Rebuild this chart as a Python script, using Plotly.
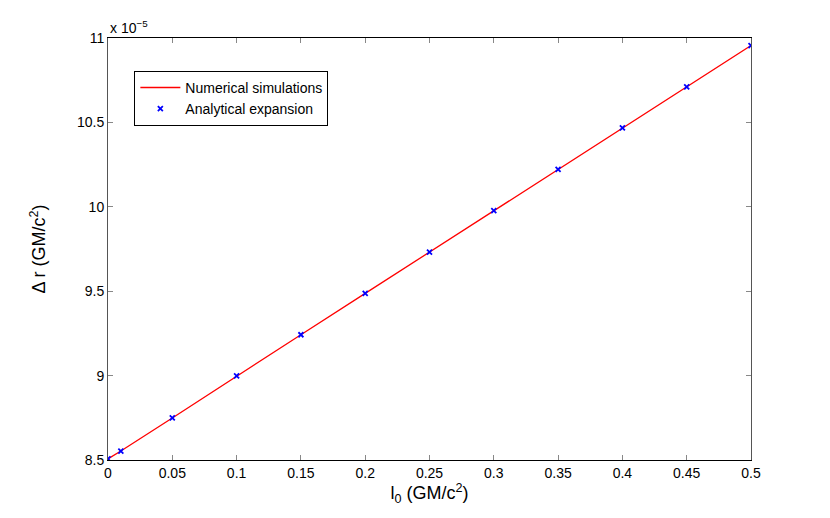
import plotly.graph_objects as go

# l0 values (GM/c^2) and delta r in units of 1e-5 GM/c^2
l0_values = [0.0, 0.01, 0.05, 0.1, 0.15, 0.2, 0.25, 0.3, 0.35, 0.4, 0.45, 0.5]
numerical_dr = [8.507, 8.553, 8.749, 8.998, 9.242, 9.487, 9.732, 9.977, 10.222, 10.467, 10.711, 10.955]
analytical_dr = [8.507, 8.553, 8.749, 8.998, 9.242, 9.487, 9.732, 9.977, 10.222, 10.467, 10.711, 10.955]

x_ticks = [0, 0.05, 0.1, 0.15, 0.2, 0.25, 0.3, 0.35, 0.4, 0.45, 0.5]
x_tick_labels = ["0", "0.05", "0.1", "0.15", "0.2", "0.25", "0.3", "0.35", "0.4", "0.45", "0.5"]
y_ticks = [8.5, 9, 9.5, 10, 10.5, 11]
y_tick_labels = ["8.5", "9", "9.5", "10", "10.5", "11"]

FONT = "Liberation Sans, Arial, Helvetica, sans-serif"

fig = go.Figure()
fig.add_trace(
    go.Scatter(
        x=l0_values,
        y=numerical_dr,
        mode="lines",
        name="Numerical simulations",
        line={"color": "#ff0000", "width": 1.3},
    )
)
fig.add_trace(
    go.Scatter(
        x=l0_values,
        y=analytical_dr,
        mode="markers",
        name="Analytical expansion",
        marker={
            "symbol": "x-thin-open",
            "size": 5,
            "color": "#0000ff",
            "line": {"color": "#0000ff", "width": 1.8},
        },
    )
)

# the page body adds an 8px offset, so the figure is a little smaller than the window
fig.update_layout(
    width=822,
    height=510,
    margin={"l": 100, "r": 79, "t": 30, "b": 58},
    paper_bgcolor="#ffffff",
    plot_bgcolor="#ffffff",
    font={"family": FONT, "size": 14, "color": "#000000"},
    showlegend=True,
    legend={
        "x": 0.041,
        "y": 0.922,
        "xanchor": "left",
        "yanchor": "top",
        "bordercolor": "#000000",
        "borderwidth": 1,
        "bgcolor": "#ffffff",
        "font": {"family": FONT, "size": 14},
        "itemwidth": 40,
        "tracegroupgap": 0,
    },
    annotations=[
        {
            "text": "x 10<sup>−5</sup>",
            "xref": "paper",
            "yref": "paper",
            "x": 0,
            "y": 1,
            "xanchor": "left",
            "yanchor": "bottom",
            "showarrow": False,
            "font": {"family": FONT, "size": 14},
            "yshift": 0,
        }
    ],
)
fig.update_xaxes(
    range=[0, 0.5],
    tickvals=x_ticks,
    ticktext=x_tick_labels,
    ticks="inside",
    ticklen=5,
    tickcolor="#888888",
    showline=True,
    linecolor="#000000",
    linewidth=1,
    mirror="ticks",
    showgrid=False,
    zeroline=False,
    title={"text": "l<sub>0</sub> (GM/c<sup>2</sup>)", "font": {"family": FONT, "size": 18}, "standoff": 2},
)
fig.update_yaxes(
    range=[8.5, 11],
    tickvals=y_ticks,
    ticktext=y_tick_labels,
    ticks="inside",
    ticklen=5,
    tickcolor="#888888",
    showline=True,
    linecolor="#555555",
    linewidth=1,
    mirror="ticks",
    showgrid=False,
    zeroline=False,
    title={"text": "Δ r (GM/c<sup>2</sup>)", "font": {"family": FONT, "size": 18}, "standoff": 26},
)

fig.write_html("out.html")
